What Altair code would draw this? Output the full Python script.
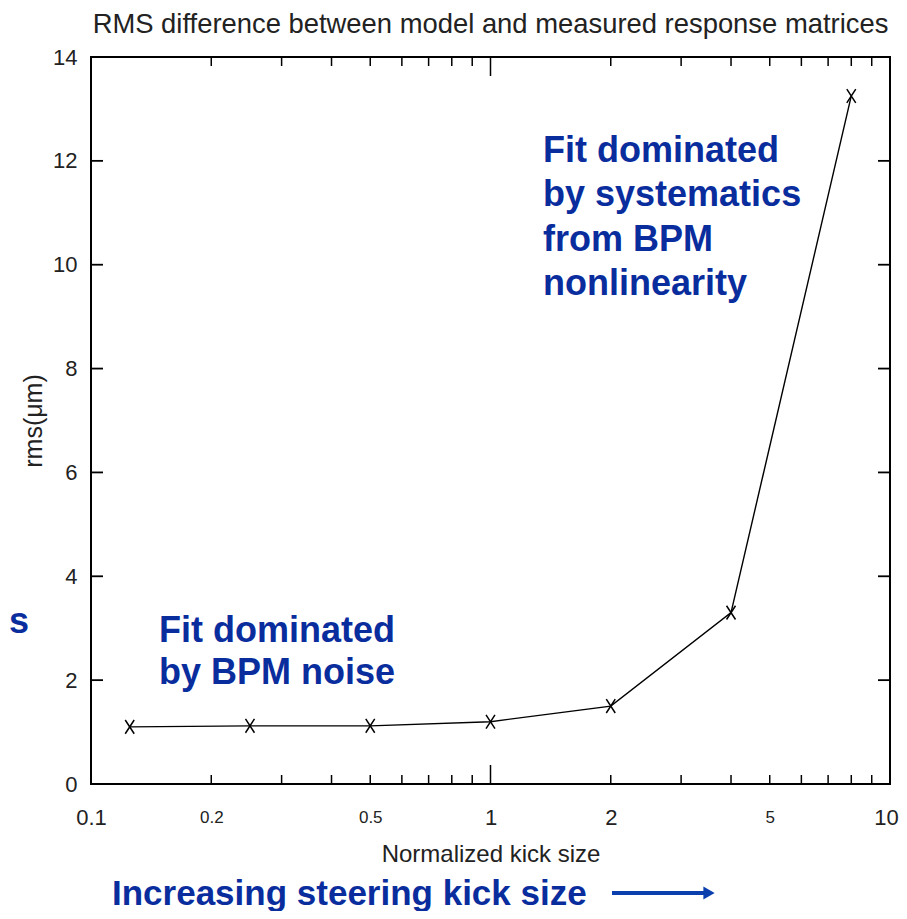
import altair as alt
import pandas as pd

# ---------------- data ----------------
kick = [0.125, 0.25, 0.5, 1, 2, 4, 8]
rms = [1.10, 1.12, 1.12, 1.20, 1.50, 3.30, 13.25]

x_tick_labels = [0.1, 0.2, 0.5, 1, 2, 5, 10]
y_tick_labels = [0, 2, 4, 6, 8, 10, 12, 14]
x_minor_ticks = [0.2, 0.3, 0.4, 0.5, 0.6, 0.7, 0.8, 0.9, 2, 3, 4, 5, 6, 7, 8, 9]
x_major_ticks = [1]
y_inner_ticks = [2, 4, 6, 8, 10, 12]

title_text = "RMS difference between model and measured response matrices"
x_title = "Normalized kick size"
y_title = "rms(\u03bcm)"
note_high = ["Fit dominated", "by systematics", "from BPM", "nonlinearity"]
note_low = ["Fit dominated", "by BPM noise"]
note_bottom = "Increasing steering kick size"
note_cut = "s"

# ---------------- layout ----------------
W, H = 799, 727
BLUE = "#0a2d9e"
ARROW = "#0b3fae"
SANS = "Liberation Sans"

xs = alt.Scale(type="log", domain=[0.1, 10], nice=False)
ys = alt.Scale(domain=[0, 14], nice=False)

x_axis = alt.Axis(
    values=x_tick_labels, format="~g", title=x_title,
    labelFontSize={"condition": {"test": "datum.value == 0.2 || datum.value == 0.5 || datum.value == 5",
                                 "value": 17}, "value": 22},
    labelOffset={"condition": {"test": "datum.value == 10", "value": -4}, "value": 0},
    labelPadding=33, labelBaseline="middle",
    titleFontSize=24, titlePadding=14,
)
y_axis = alt.Axis(
    values=y_tick_labels, format="d", title=y_title,
    labelFontSize=22, labelPadding=14, titleFontSize=25, titlePadding=6,
)

df = pd.DataFrame({"kick": kick, "rms": rms})

line = alt.Chart(df).mark_line(color="black", strokeWidth=1.4).encode(
    x=alt.X("kick:Q", scale=xs, axis=x_axis),
    y=alt.Y("rms:Q", scale=ys, axis=y_axis),
)
points = alt.Chart(df).mark_point(
    shape="M-0.65,-1L0.65,1M-0.65,1L0.65,-1", filled=False, color="black",
    strokeWidth=1.5, size=190, opacity=1,
).encode(x=alt.X("kick:Q", scale=xs, axis=x_axis), y=alt.Y("rms:Q", scale=ys, axis=y_axis))

minor_df = pd.DataFrame({"v": x_minor_ticks})
major_df = pd.DataFrame({"v": x_major_ticks})
ytk_df = pd.DataFrame({"v": y_inner_ticks})

def xticks(d, y0, y1):
    return alt.Chart(d).mark_rule(color="black", strokeWidth=1.5).encode(
        x=alt.X("v:Q", scale=xs, axis=x_axis), y=alt.value(y0), y2=alt.value(y1))

def yticks(x0, x1):
    return alt.Chart(ytk_df).mark_rule(color="black", strokeWidth=1.8).encode(
        y=alt.Y("v:Q", scale=ys, axis=y_axis), x=alt.value(x0), x2=alt.value(x1))

ticks = [
    xticks(minor_df, H, H - 9), xticks(minor_df, 0, 9),
    xticks(major_df, H, H - 19), xticks(major_df, 0, 19),
    yticks(0, 12), yticks(W, W - 12),
]

def text_layer(t, **kw):
    enc = {k: kw.pop(k) for k in ["x", "y"]}
    return alt.Chart(pd.DataFrame({"t": [t]})).mark_text(**kw).encode(
        text="t:N", x=alt.value(enc["x"]), y=alt.value(enc["y"]))

title = text_layer(title_text, x=W / 2, y=-32, font=SANS, fontSize=27.4,
                   color="#222", align="center", baseline="middle")
hi = text_layer("\n".join(note_high), x=452, y=105, font=SANS, fontSize=36,
                fontWeight="bold", color=BLUE, align="left", baseline="alphabetic",
                lineBreak="\n", lineHeight=44.4)
lo = text_layer("\n".join(note_low), x=68, y=585, font=SANS, fontSize=36,
                fontWeight="bold", color=BLUE, align="left", baseline="alphabetic",
                lineBreak="\n", lineHeight=41.5)
bottom = text_layer(note_bottom, x=21, y=848, font=SANS, fontSize=35,
                    fontWeight="bold", color=BLUE, align="left", baseline="alphabetic")
cut = text_layer(note_cut, x=-82, y=576, font=SANS, fontSize=36,
                 fontWeight="bold", color=BLUE, align="left", baseline="alphabetic")

arrow_df = pd.DataFrame({"a": [0]})
arrow_line = alt.Chart(arrow_df).mark_rule(color=ARROW, strokeWidth=4).encode(
    x=alt.value(521), x2=alt.value(614), y=alt.value(836))
arrow_head = alt.Chart(arrow_df).mark_point(
    shape="triangle-right", filled=True, color=ARROW, size=170, opacity=1
).encode(x=alt.value(618), y=alt.value(836))

chart = alt.layer(line, points, *ticks, title, hi, lo, bottom, cut, arrow_line, arrow_head).properties(
    width=W, height=H,
    background="white",
    autosize=alt.AutoSizeParams(type="none"),
    padding={"left": 83, "top": 49, "right": 9, "bottom": 127},
).configure_view(
    stroke="black", strokeWidth=2
).configure_axis(
    ticks=False, domain=False, grid=False, labelFont=SANS, labelColor="#222",
    titleFont=SANS, titleFontWeight="normal", titleColor="#222",
    labelFlush=False, labelOverlap=False,
)

chart.save("out.html", embed_options={"renderer": "svg", "actions": False})
